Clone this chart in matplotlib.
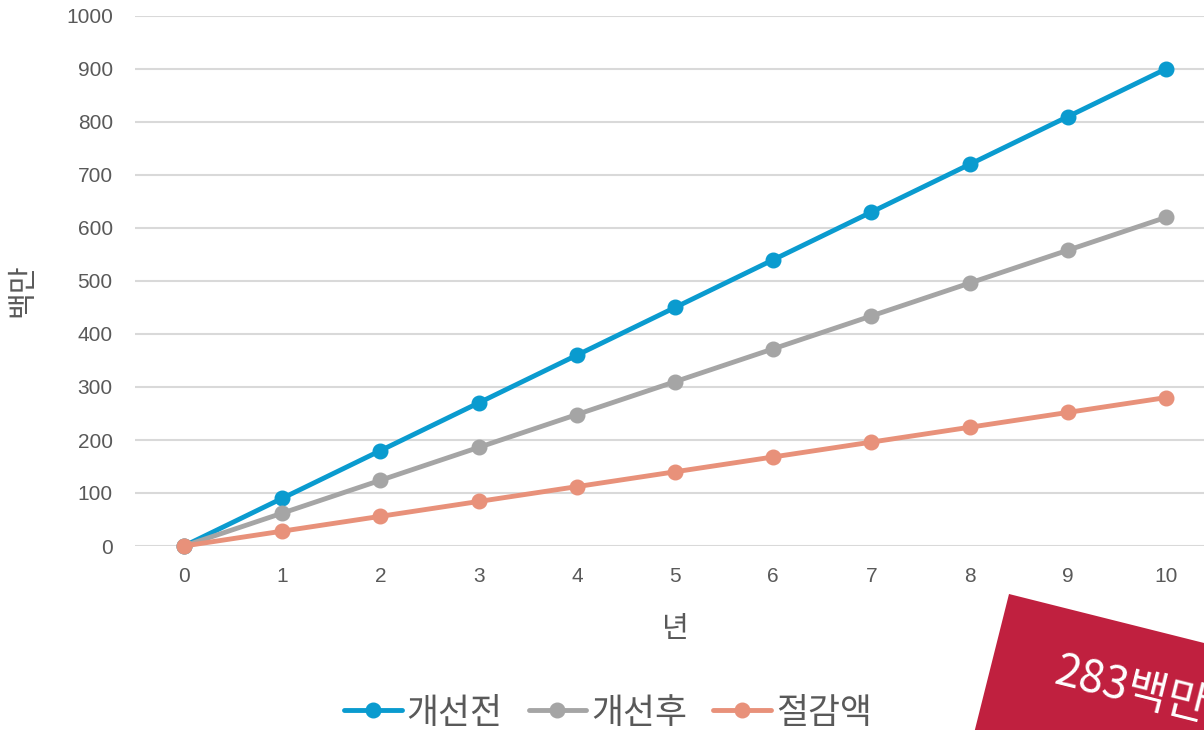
import matplotlib
matplotlib.use("Agg")
import matplotlib.pyplot as plt
from matplotlib.patches import Polygon
import numpy as np

plt.rcParams['font.family'] = ['Liberation Sans', 'Noto Sans CJK KR', 'DejaVu Sans']

# Cumulative cost over ten years (millions of won)
years = [0, 1, 2, 3, 4, 5, 6, 7, 8, 9, 10]
before = [0, 90, 180, 270, 360, 450, 540, 630, 720, 810, 900]
after = [0, 62, 124, 186, 248, 310, 372, 434, 496, 558, 620]
savings = [0, 28, 56, 84, 112, 140, 168, 196, 224, 252, 280]
series_names = ['개선전', '개선후', '절감액']
colors = ['#0A9BCF', '#A5A5A5', '#E8917A']
yticks = [0, 100, 200, 300, 400, 500, 600, 700, 800, 900, 1000]
badge_text = '283백만'

W, H = 1204, 730
fig = plt.figure(figsize=(W / 100, H / 100), dpi=100)
ax = fig.add_axes([135 / W, (H - 546) / H, (1215 - 135) / W, (546 - 16) / H])

for vals, name, c in zip([before, after, savings], series_names, colors):
    ax.plot(years, vals, color=c, lw=3.5, marker='o', ms=10.5,
            label=name, solid_capstyle='round', clip_on=False)

ax.set_xlim(-0.5, 10.5)
ax.set_ylim(0, 1000)
ax.set_yticks(yticks)
ax.set_xticks(years)
ax.grid(axis='y', color='#D9D9D9', lw=1.5)
ax.set_axisbelow(True)
for s in ax.spines.values():
    s.set_visible(False)
ax.tick_params(length=0, labelsize=15, colors='#595959')
ax.tick_params(axis='y', pad=16)
ax.tick_params(axis='x', pad=15)

ax.set_xlabel('년', fontsize=21, color='#595959', family=['Noto Sans CJK KR'],
              labelpad=20)
fig.text(22 / W, 1 - 290 / H, '백만', fontsize=21, color='#595959',
         family=['Noto Sans CJK KR'], rotation=90, ha='center', va='center')

leg = fig.legend(loc='center', bbox_to_anchor=(0.505, 1 - 713 / H), ncol=3,
                 frameon=False, handlelength=1.65, handletextpad=0.15,
                 columnspacing=0.75,
                 prop={'family': ['Noto Sans CJK KR'], 'size': 25})
for t in leg.get_texts():
    t.set_color('#595959')

# Red badge in the lower-right corner
ang = np.deg2rad(14.1)
tl = np.array([1009.0, 594.0])
along = np.array([np.cos(ang), np.sin(ang)])
down = np.array([-np.sin(ang), np.cos(ang)])
corners = [tl, tl + along * 420, tl + along * 420 + down * 160, tl + down * 160]
poly = Polygon([(x / W, 1 - y / H) for x, y in corners], closed=True,
               transform=fig.transFigure, facecolor='#C0203F', edgecolor='none',
               zorder=5)
fig.patches.append(poly)
fig.text(1052 / W, 1 - 683 / H, badge_text, color='white', fontsize=32,
         family=['Noto Sans CJK KR'], rotation=-14.1, rotation_mode='anchor',
         ha='left', va='baseline', zorder=6)

fig.savefig('out.png', dpi=100)
